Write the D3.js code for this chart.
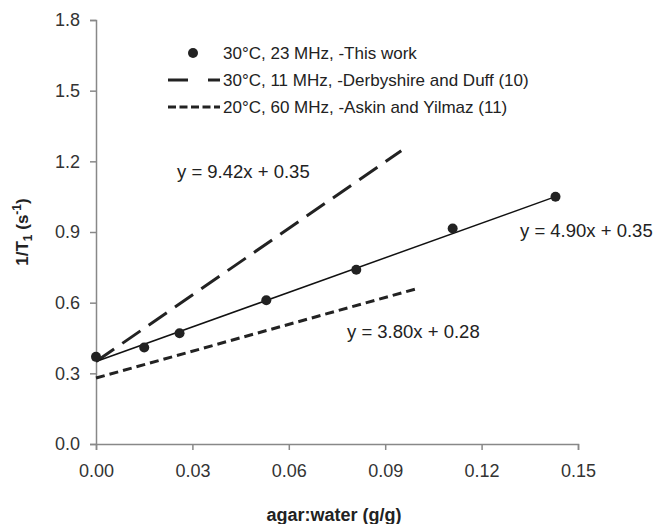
<!DOCTYPE html>
<html>
<head>
<meta charset="utf-8">
<script src="https://cdn.jsdelivr.net/npm/d3@7"></script>
<style>
  body { margin: 0; background: #fff; }
  svg { font-family: "Liberation Sans", Arial, sans-serif; }
  .tick text { fill: #333; }
</style>
</head>
<body>
<svg width="656" height="524"></svg>
<script>
// Measured points (this work)
let ratio = [0, 0.015, 0.026, 0.053, 0.081, 0.111, 0.143]
let rate = [0.37, 0.41, 0.47, 0.61, 0.74, 0.915, 1.05]

// Fit lines, end points
let thisFitX = [0, 0.143]
let thisFitY = [0.35, 1.05]
let derbyX = [0, 0.095]
let derbyY = [0.35, 1.245]
let askinX = [0, 0.10]
let askinY = [0.28, 0.66]

let xTicks = [0, 0.03, 0.06, 0.09, 0.12, 0.15]
let yTicks = [0, 0.3, 0.6, 0.9, 1.2, 1.5, 1.8]

let legendLabels = [
  '30°C, 23 MHz, -This work',
  '30°C, 11 MHz, -Derbyshire and Duff (10)',
  '20°C, 60 MHz, -Askin and Yilmaz (11)'
]
let equations = ['y = 9.42x + 0.35', 'y = 4.90x + 0.35', 'y = 3.80x + 0.28']

let margin = { left: 96, right: 78, top: 20, bottom: 80 }
let svg = d3.select('svg')
let w = 656 - margin.left - margin.right
let h = 524 - margin.top - margin.bottom

let x = d3.scaleLinear().domain([0, 0.15]).range([margin.left, margin.left + w])
let y = d3.scaleLinear().domain([0, 1.8]).range([margin.top + h, margin.top])

// Axes
let xAxis = svg.append('g')
  .attr('transform', `translate(0,${margin.top + h})`)
  .call(d3.axisBottom(x).tickValues(xTicks).tickFormat(d3.format('.2f')).tickSize(6).tickPadding(14))
let yAxis = svg.append('g')
  .attr('transform', `translate(${margin.left},0)`)
  .call(d3.axisLeft(y).tickValues(yTicks).tickFormat(d3.format('.1f')).tickSize(6).tickPadding(10))

;[xAxis, yAxis].forEach(g => {
  g.select('.domain').attr('stroke', '#888').attr('stroke-width', 1.5)
  g.selectAll('.tick line').attr('stroke', '#888').attr('stroke-width', 1.5)
  g.selectAll('.tick text').attr('font-size', 18).attr('font-family', '"Liberation Sans", Arial, sans-serif')
})

// Lines
let line = d3.line().x(d => x(d[0])).y(d => y(d[1]))

svg.append('path')
  .datum(derbyX.map((d, i) => [d, derbyY[i]]))
  .attr('d', line).attr('fill', 'none')
  .attr('stroke', '#222').attr('stroke-width', 3)
  .attr('stroke-dasharray', '22,10')

svg.append('path')
  .datum(askinX.map((d, i) => [d, askinY[i]]))
  .attr('d', line).attr('fill', 'none')
  .attr('stroke', '#222').attr('stroke-width', 3)
  .attr('stroke-dasharray', '9,5')

svg.append('path')
  .datum(thisFitX.map((d, i) => [d, thisFitY[i]]))
  .attr('d', line).attr('fill', 'none')
  .attr('stroke', '#111').attr('stroke-width', 1.5)

svg.append('g')
  .selectAll('circle')
  .data(ratio)
  .enter()
  .append('circle')
  .attr('cx', d => x(d))
  .attr('cy', (d, i) => y(rate[i]))
  .attr('r', 5)
  .attr('fill', '#222')

// Equations
let eqPos = [[177, 178], [520, 237], [347, 338]]
svg.selectAll('.eq')
  .data(equations)
  .enter()
  .append('text')
  .attr('class', 'eq')
  .attr('x', (d, i) => eqPos[i][0])
  .attr('y', (d, i) => eqPos[i][1])
  .attr('font-size', 18.5)
  .attr('fill', '#222')
  .text(d => d)

// Legend
let leg = svg.append('g')
let rowY = [53, 80, 107]
leg.append('circle').attr('cx', 193).attr('cy', rowY[0]).attr('r', 5).attr('fill', '#222')
leg.append('line').attr('x1', 168).attr('x2', 220).attr('y1', rowY[1]).attr('y2', rowY[1])
  .attr('stroke', '#222').attr('stroke-width', 3).attr('stroke-dasharray', '20,20')
leg.append('line').attr('x1', 168).attr('x2', 220).attr('y1', rowY[2]).attr('y2', rowY[2])
  .attr('stroke', '#222').attr('stroke-width', 3).attr('stroke-dasharray', '8,3.5')
leg.selectAll('text')
  .data(legendLabels)
  .enter()
  .append('text')
  .attr('x', 223)
  .attr('y', (d, i) => rowY[i] + 6)
  .attr('font-size', 17)
  .attr('fill', '#222')
  .text(d => d)

// Axis titles
svg.append('text')
  .attr('x', margin.left + w / 2 - 3)
  .attr('y', 521)
  .attr('text-anchor', 'middle')
  .attr('font-size', 18)
  .attr('font-weight', 'bold')
  .attr('fill', '#222')
  .text('agar:water (g/g)')

let yt = svg.append('text')
  .attr('transform', `translate(28,${y(0.9)}) rotate(-90)`)
  .attr('text-anchor', 'middle')
  .attr('font-size', 17)
  .attr('font-weight', 'bold')
  .attr('fill', '#222')
yt.append('tspan').text('1/T')
yt.append('tspan').attr('font-size', 12).attr('dy', 4).text('1')
yt.append('tspan').attr('dy', -4).text(' (s')
yt.append('tspan').attr('font-size', 12).attr('dy', -7).text('-1')
yt.append('tspan').attr('dy', 7).text(')')
</script>
</body>
</html>
